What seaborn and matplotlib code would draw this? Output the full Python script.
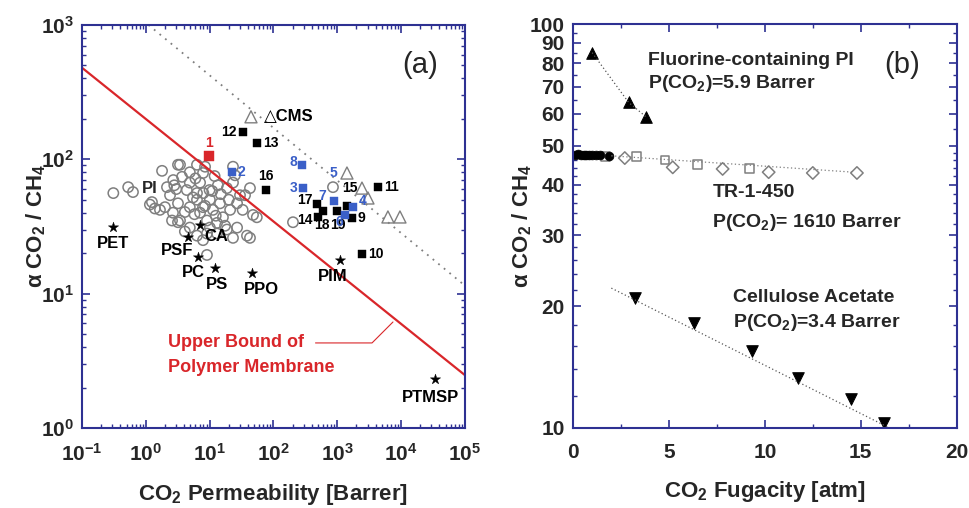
import numpy as np
import pandas as pd
import seaborn as sns
import matplotlib.pyplot as plt
from matplotlib.ticker import LogLocator, LogFormatterMathtext, FixedLocator, FixedFormatter, NullFormatter

# ---- panel (a): Robeson-type plot ----
# open circles: conventional polymers
circ_p = [0.31, 0.53, 0.63, 1.8, 2.15, 3.44, 3.7, 4.9, 6.35, 7.9,
          8.5, 4.9, 4.4, 7.1, 6.35, 2.4, 3.2, 1.25, 1.39, 2.0,
          2.67, 2.58, 3.44, 4.1, 4.9, 6.35, 7.9, 10.1, 11.3, 14.6,
          13.5, 18.7, 23.3, 23.3, 30, 43, 27, 21, 33, 48,
          16.2, 13.1, 9.1, 7.1, 4.9, 6.35, 9.1, 13.1, 18.7, 27,
          23.3, 38.6, 7.9, 9.1, 10.1, 3.2, 1.16, 1.67, 55, 43,
          203, 3.2, 8.5, 12.5, 17.5, 5.8, 4.1, 2.8, 10, 36,
          25, 5.5, 8.0, 11, 15, 20, 3.0, 6.0, 12, 2.7, 860]
circ_a = [56, 62, 57, 82, 62, 91, 74, 80, 91, 79,
          88, 67, 59, 67, 56, 54, 47, 48, 43, 44,
          40, 35, 35, 40.5, 44, 50, 44, 50, 42, 47,
          64, 61, 67, 88, 54, 61, 47, 42, 42, 38.5,
          37, 33.6, 35, 40, 31, 27, 28, 28, 30, 31,
          26, 27, 25, 19.4, 31, 34, 46, 42, 37, 26,
          34, 91, 45, 38, 32, 39, 29, 64, 59, 54,
          76, 52, 56, 58, 55, 50, 60, 72, 75, 70, 62]

# open triangles: CMS
tri_p = [44.6, 1425, 2450, 3040, 6250, 9650]
tri_a = [207, 79, 61, 51.5, 37.2, 37.2]

# stars: named polymers
star_names = ["PET", "PSF", "PC", "PS", "PPO", "CA", "PIM", "PTMSP"]
star_p = [0.31, 4.6, 6.6, 12.2, 46, 7.1, 1107, 34100]
star_a = [31.3, 26.4, 18.7, 15.5, 14.2, 32.4, 17.8, 2.31]

# filled squares
blk_lab = ["12", "13", "16", "17", "14", "18", "19", "15", "9", "10", "11"]
blk_p = [33.4, 55, 76.6, 482, 500, 599, 993, 1425, 1706, 2450, 4360]
blk_a = [160, 132, 59, 46.5, 37.2, 41.2, 41.2, 44.9, 36.5, 19.7, 62]
blue_lab = ["2", "8", "3", "7", "4", "6"]
blue_p = [22.4, 281, 291, 891, 1770, 1325]
blue_a = [80.4, 91, 61, 49, 44.2, 38.5]
red_lab = ["1"]
red_p = [9.8]
red_a = [106]

# lines
ub_p = [0.1, 1e5]          # upper bound of polymer membranes
ub_a = [480, 2.48]
cms_p = [1.1, 1e5]          # dotted trend for CMS
cms_a = [1000, 11.5]

# ---- panel (b): selectivity vs fugacity ----
fpi_f = [1.0, 2.9, 3.8]
fpi_a = [85, 64, 59]
tr_blk_f = [0.1, 0.25, 0.4, 0.55, 0.7, 0.85, 1.0, 1.2, 1.4, 1.9]
tr_blk_a = [47.5, 47.6, 47.5, 47.4, 47.5, 47.4, 47.4, 47.3, 47.3, 47.2]
tr_sq_f = [1.7, 3.3, 4.8, 6.5, 9.2]
tr_sq_a = [47.1, 47.1, 46.1, 45.0, 44.0]
tr_dm_f = [2.7, 5.2, 7.8, 10.2, 12.5, 14.8]
tr_dm_a = [46.6, 44.2, 43.8, 43.0, 42.8, 42.8]
tr_fit_f = [2.0, 14.6]
tr_fit_a = [47.2, 43.0]
ca_f = [3.23, 6.3, 9.32, 11.72, 14.48, 16.2]
ca_a = [21.0, 18.2, 15.5, 13.3, 11.8, 10.3]
ca_fit_f = [2.0, 16.5]
ca_fit_a = [22.2, 10.0]

sns.set_style("ticks")
plt.rcParams['font.family'] = ['Liberation Sans', 'DejaVu Sans']
plt.rcParams['mathtext.fontset'] = 'custom'
plt.rcParams['mathtext.rm'] = 'Liberation Sans:bold'
plt.rcParams['mathtext.bf'] = 'Liberation Sans:bold'
plt.rcParams['mathtext.it'] = 'Liberation Sans:bold'
plt.rcParams['mathtext.default'] = 'bf'

navy = '#2e3192'
grey = '#7f7f7f'
blue = '#3a5fc8'
red = '#d9262a'

fig = plt.figure(figsize=(9.69, 5.08), dpi=100)
ax1 = fig.add_axes([0.0846, 0.1575, 0.395, 0.7935])
ax2 = fig.add_axes([0.5913, 0.1575, 0.396, 0.795])

# ---------- panel (a)
sns.lineplot(x=ub_p, y=ub_a, ax=ax1, color=red, lw=1.6)
sns.lineplot(x=cms_p, y=cms_a, ax=ax1, color=grey, lw=1.3, linestyle=(0, (1, 3)))
sns.scatterplot(x=circ_p, y=circ_a, ax=ax1, marker='o', s=55, facecolor='none',
                edgecolor=grey, linewidth=1.1)
sns.scatterplot(x=tri_p, y=tri_a, ax=ax1, marker='^', s=75, facecolor='none',
                edgecolor=grey, linewidth=1.0)
sns.scatterplot(x=star_p, y=star_a, ax=ax1, marker='*', s=60, color='black', edgecolor='black', linewidth=0.3)
sns.scatterplot(x=blk_p, y=blk_a, ax=ax1, marker='s', s=30, color='black', edgecolor='black', linewidth=0.3)
sns.scatterplot(x=blue_p, y=blue_a, ax=ax1, marker='s', s=30, color=blue, edgecolor=blue, linewidth=0.3)
sns.scatterplot(x=red_p, y=red_a, ax=ax1, marker='s', s=42, color=red, edgecolor=red, linewidth=0.3)

ax1.set_xscale('log')
ax1.set_yscale('log')
ax1.set_xlim(0.1, 1e5)
ax1.set_ylim(1, 1000)

def tag(ax, x, y, s, dx, dy, color='black', size=10):
    ax.annotate(s, (x, y), xytext=(dx, dy), textcoords='offset points',
                ha='center', va='center', color=color, fontsize=size, fontweight='bold')

star_off = {"PET": (0, -11.5), "PSF": (-8, -9.5), "PC": (-3.5, -11), "PS": (1.5, -12),
            "PPO": (7, -12), "CA": (12, -8.6), "PIM": (-5, -12), "PTMSP": (-3.5, -13)}
for n, p, a in zip(star_names, star_p, star_a):
    tag(ax1, p, a, n, *star_off[n], size=12)

blk_off = {"12": (-10, 0), "13": (10, 0), "16": (0, 10), "17": (-8.6, 3), "14": (-9.4, -2),
           "18": (-1, -10), "19": (1, -10), "15": (2, 13), "9": (7, 0), "10": (10, 0), "11": (10, 0)}
for n, p, a in zip(blk_lab, blk_p, blk_a):
    tag(ax1, p, a, n, *blk_off[n], size=10)
blue_off = {"2": (7, 0), "8": (-6.5, 2), "3": (-7, 0), "7": (-8.6, 3.6), "4": (7, 4.3), "6": (-4, -5)}
for n, p, a in zip(blue_lab, blue_p, blue_a):
    tag(ax1, p, a, n, *blue_off[n], color=blue, size=10)
for n, p, a in zip(red_lab, red_p, red_a):
    tag(ax1, p, a, n, 0, 9.5, color=red, size=10)
ax1.text(860, 79, "5", color=blue, fontsize=10, fontweight='bold', ha='center', va='center')
ax1.text(1.16, 61, "PI", fontsize=12, fontweight='bold', ha='center', va='center')
tag(ax1, tri_p[0], tri_a[0], "△CMS", 27, 0, size=12)

ax1.annotate("Upper Bound of", xy=(7500, 6.15), xytext=(0.2245, 0.211),
             textcoords='axes fraction', ha='left', va='center', color=red,
             fontsize=13, fontweight='bold',
             arrowprops=dict(arrowstyle='-', color=red, lw=0.8, shrinkA=6, shrinkB=0,
                             connectionstyle='angle,angleA=0,angleB=45,rad=0'))
ax1.text(0.2245, 0.149, "Polymer Membrane", transform=ax1.transAxes, ha='left', va='center',
         color=red, fontsize=13, fontweight='bold')
ax1.text(0.883, 0.90, "(a)", transform=ax1.transAxes, ha='center', va='center', fontsize=21)

ax1.xaxis.set_major_locator(LogLocator(base=10, numticks=10))
ax1.yaxis.set_major_locator(LogLocator(base=10, numticks=10))
ax1.xaxis.set_minor_locator(LogLocator(base=10, subs=np.arange(2, 10), numticks=20))
ax1.yaxis.set_minor_locator(LogLocator(base=10, subs=np.arange(2, 10), numticks=20))
ax1.xaxis.set_major_formatter(LogFormatterMathtext())
ax1.yaxis.set_major_formatter(LogFormatterMathtext())
ax1.xaxis.set_minor_formatter(NullFormatter())
ax1.yaxis.set_minor_formatter(NullFormatter())
ax1.set_xlabel(r"CO$_2$ Permeability [Barrer]", fontsize=16, fontweight='bold', labelpad=12)
ax1.set_ylabel(r"α CO$_2$ / CH$_4$", fontsize=16, fontweight='bold', labelpad=-5)

# ---------- panel (b)
sns.lineplot(x=fpi_f, y=fpi_a, ax=ax2, color='#555555', lw=0.9, linestyle=(0, (1, 2)))
sns.lineplot(x=tr_fit_f, y=tr_fit_a, ax=ax2, color=grey, lw=0.9, linestyle=(0, (1, 2)))
sns.lineplot(x=ca_fit_f, y=ca_fit_a, ax=ax2, color='#555555', lw=0.9, linestyle=(0, (1, 2)))
sns.scatterplot(x=fpi_f, y=fpi_a, ax=ax2, marker='^', s=70, color='black', edgecolor='black')
sns.scatterplot(x=tr_sq_f, y=tr_sq_a, ax=ax2, marker='s', s=40, facecolor='none',
                edgecolor=grey, linewidth=1.1)
sns.scatterplot(x=tr_dm_f, y=tr_dm_a, ax=ax2, marker='D', s=40, facecolor='none',
                edgecolor=grey, linewidth=1.1)
sns.scatterplot(x=tr_blk_f, y=tr_blk_a, ax=ax2, marker='o', s=40, color='black', edgecolor='black')
sns.scatterplot(x=ca_f, y=ca_a, ax=ax2, marker='v', s=70, color='black', edgecolor='black')

ax2.set_yscale('log')
ax2.set_xlim(0, 20)
ax2.set_ylim(10, 100)
ytk = [10, 20, 30, 40, 50, 60, 70, 80, 90, 100]
ax2.yaxis.set_major_locator(FixedLocator(ytk))
ax2.yaxis.set_major_formatter(FixedFormatter([str(v) for v in ytk]))
ax2.yaxis.set_minor_locator(FixedLocator(list(range(12, 50, 2)) + list(range(55, 100, 5))))
ax2.yaxis.set_minor_formatter(NullFormatter())
ax2.xaxis.set_major_locator(FixedLocator([0, 5, 10, 15, 20]))
ax2.xaxis.set_minor_locator(FixedLocator([2.5, 7.5, 12.5, 17.5]))

fs_b = 14
ax2.text(0.195, 0.911, "Fluorine-containing PI", transform=ax2.transAxes, ha='left', va='center',
         fontsize=fs_b, fontweight='bold')
ax2.text(0.195, 0.854, r"P(CO$_2$)=5.9 Barrer", transform=ax2.transAxes, ha='left', va='center',
         fontsize=fs_b, fontweight='bold')
ax2.text(0.363, 0.582, "TR-1-450", transform=ax2.transAxes, ha='left', va='center',
         fontsize=fs_b, fontweight='bold')
ax2.text(0.363, 0.51, r"P(CO$_2$)= 1610 Barrer", transform=ax2.transAxes, ha='left', va='center',
         fontsize=fs_b, fontweight='bold')
ax2.text(0.417, 0.322, "Cellulose Acetate", transform=ax2.transAxes, ha='left', va='center',
         fontsize=fs_b, fontweight='bold')
ax2.text(0.417, 0.262, r"P(CO$_2$)=3.4 Barrer", transform=ax2.transAxes, ha='left', va='center',
         fontsize=fs_b, fontweight='bold')
ax2.text(0.857, 0.899, "(b)", transform=ax2.transAxes, ha='center', va='center', fontsize=21)
ax2.set_xlabel(r"CO$_2$ Fugacity [atm]", fontsize=16, fontweight='bold', labelpad=12)
ax2.set_ylabel(r"α CO$_2$ / CH$_4$", fontsize=16, fontweight='bold', labelpad=-3)

for ax in (ax1, ax2):
    for sp in ax.spines.values():
        sp.set_visible(True)
        sp.set_color(navy)
        sp.set_linewidth(1.5)
    ax.tick_params(which='both', direction='in', top=True, right=True, color=navy)
    ax.tick_params(which='major', length=6, width=1.2, labelsize=15, pad=6)
    ax.tick_params(axis='x', which='major', pad=11)
    ax.tick_params(which='minor', length=3, width=1.0)
    for lb in ax.get_xticklabels() + ax.get_yticklabels():
        lb.set_fontweight('bold')

fig.savefig("out.png", dpi=100)
